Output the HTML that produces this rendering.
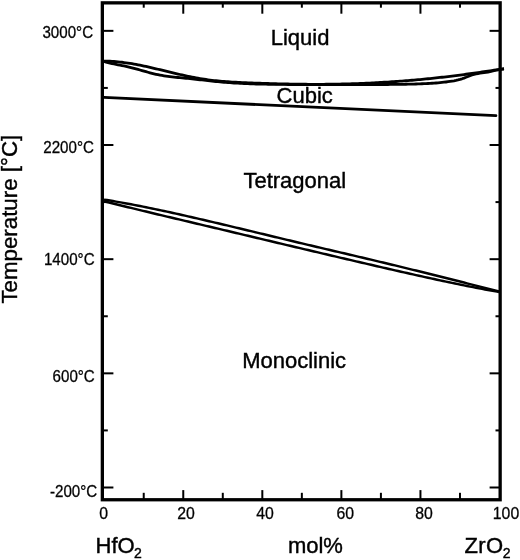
<!DOCTYPE html>
<html><head><meta charset="utf-8"><style>
html,body{margin:0;padding:0;background:#fff;}
body{width:520px;height:560px;overflow:hidden;}
svg{display:block;}
text{font-family:"Liberation Sans",Arial,sans-serif;fill:#000;}
.ax{font-size:15.8px;fill:#111;stroke:#111;stroke-width:0.3px;}
.xl{font-size:15.8px;fill:#111;stroke:#111;stroke-width:0.3px;}
.lb{font-size:22px;stroke:#000;stroke-width:0.4px;}
</style></head><body>
<svg width="520" height="560" viewBox="0 0 520 560">
<rect x="0" y="0" width="520" height="560" fill="#fff"/>
<g fill="none" stroke="#000" stroke-linecap="butt" stroke-linejoin="round" stroke-width="2.8">
<path d="M104.00 61.15 L106.00 61.15 L108.00 61.19 L110.00 61.26 L112.00 61.36 L114.00 61.49 L116.00 61.64 L118.00 61.83 L120.00 62.03 L122.00 62.26 L124.00 62.52 L126.00 62.79 L128.00 63.09 L130.00 63.40 L132.00 63.73 L134.00 64.08 L136.00 64.45 L138.00 64.83 L140.00 65.23 L142.00 65.63 L144.00 66.05 L146.00 66.49 L148.00 66.93 L150.00 67.38 L152.00 67.83 L154.00 68.30 L156.00 68.77 L158.00 69.24 L160.00 69.72 L162.00 70.21 L164.00 70.69 L166.00 71.17 L168.00 71.66 L170.00 72.14 L172.00 72.62 L174.00 73.10 L176.00 73.57 L178.00 74.04 L180.00 74.50 L182.00 74.96 L184.00 75.40 L186.00 75.84 L188.00 76.27 L190.00 76.68 L192.00 77.09 L194.00 77.48 L196.00 77.86 L198.00 78.22 L200.00 78.57 L202.00 78.90 L204.00 79.22 L206.00 79.51 L208.00 79.79 L210.00 80.05 L212.00 80.30 L214.00 80.53 L216.00 80.74 L218.00 80.95 L220.00 81.13 L222.00 81.31 L224.00 81.48 L226.00 81.63 L228.00 81.77 L230.00 81.90 L232.00 82.03 L234.00 82.15 L236.00 82.25 L238.00 82.36 L240.00 82.45 L242.00 82.55 L244.00 82.63 L246.00 82.72 L248.00 82.80 L250.00 82.88 L252.00 82.95 L254.00 83.03 L256.00 83.10 L258.00 83.17 L260.00 83.24 L262.00 83.31 L264.00 83.38 L266.00 83.44 L268.00 83.51 L270.00 83.57 L272.00 83.63 L274.00 83.69 L276.00 83.74 L278.00 83.79 L280.00 83.84 L282.00 83.89 L284.00 83.94 L286.00 83.98 L288.00 84.02 L290.00 84.06 L292.00 84.10 L294.00 84.13 L296.00 84.16 L298.00 84.19 L300.00 84.21 L302.00 84.24 L304.00 84.26 L306.00 84.27 L308.00 84.28 L310.00 84.30 L312.00 84.30 L314.00 84.31 L316.00 84.31 L318.00 84.30 L320.00 84.30 L322.00 84.29 L324.00 84.28 L326.00 84.26 L328.00 84.24 L330.00 84.22 L332.00 84.19 L334.00 84.16 L336.00 84.13 L338.00 84.09 L340.00 84.05 L342.00 84.01 L344.00 83.96 L346.00 83.91 L348.00 83.85 L350.00 83.80 L352.00 83.74 L354.00 83.67 L356.00 83.60 L358.00 83.53 L360.00 83.46 L362.00 83.38 L364.00 83.29 L366.00 83.21 L368.00 83.12 L370.00 83.03 L372.00 82.93 L374.00 82.83 L376.00 82.72 L378.00 82.62 L380.00 82.51 L382.00 82.39 L384.00 82.27 L386.00 82.15 L388.00 82.03 L390.00 81.90 L392.00 81.76 L394.00 81.63 L396.00 81.49 L398.00 81.34 L400.00 81.20 L402.00 81.05 L404.00 80.89 L406.00 80.73 L408.00 80.57 L410.00 80.41 L412.00 80.24 L414.00 80.06 L416.00 79.89 L418.00 79.71 L420.00 79.52 L422.00 79.33 L424.00 79.14 L426.00 78.95 L428.00 78.75 L430.00 78.54 L432.00 78.34 L434.00 78.13 L436.00 77.91 L438.00 77.70 L440.00 77.47 L442.00 77.25 L444.00 77.02 L446.00 76.79 L448.00 76.55 L450.00 76.31 L452.00 76.06 L454.00 75.82 L456.00 75.56 L458.00 75.31 L460.00 75.05 L462.00 74.78 L464.00 74.52 L466.00 74.25 L468.00 73.97 L470.00 73.69 L472.00 73.41 L474.00 73.13 L476.00 72.85 L478.00 72.56 L480.00 72.27 L482.00 71.98 L484.00 71.69 L486.00 71.40 L488.00 71.10 L490.00 70.81 L492.00 70.51 L494.00 70.22 L496.00 69.92 L498.00 69.63 L500.00 69.33 L502.00 69.04 L504.00 68.74"/>
<path d="M104.00 61.50 L106.00 62.06 L108.00 62.57 L110.00 63.06 L112.00 63.51 L114.00 63.94 L116.00 64.35 L118.00 64.76 L120.00 65.15 L122.00 65.55 L124.00 65.96 L126.00 66.38 L128.00 66.82 L130.00 67.29 L132.00 67.79 L134.00 68.31 L136.00 68.86 L138.00 69.42 L140.00 69.99 L142.00 70.56 L144.00 71.14 L146.00 71.71 L148.00 72.27 L150.00 72.81 L152.00 73.34 L154.00 73.83 L156.00 74.29 L158.00 74.72 L160.00 75.11 L162.00 75.46 L164.00 75.79 L166.00 76.09 L168.00 76.37 L170.00 76.63 L172.00 76.87 L174.00 77.09 L176.00 77.30 L178.00 77.50 L180.00 77.70 L182.00 77.89 L184.00 78.08 L186.00 78.27 L188.00 78.47 L190.00 78.67 L192.00 78.88 L194.00 79.09 L196.00 79.31 L198.00 79.53 L200.00 79.76 L202.00 79.98 L204.00 80.21 L206.00 80.43 L208.00 80.66 L210.00 80.88 L212.00 81.09 L214.00 81.30 L216.00 81.51 L218.00 81.71 L220.00 81.89 L222.00 82.08 L224.00 82.25 L226.00 82.41 L228.00 82.56 L230.00 82.71 L232.00 82.85 L234.00 82.98 L236.00 83.10 L238.00 83.22 L240.00 83.33 L242.00 83.43 L244.00 83.52 L246.00 83.61 L248.00 83.70 L250.00 83.78 L252.00 83.85 L254.00 83.91 L256.00 83.98 L258.00 84.03 L260.00 84.09 L262.00 84.13 L264.00 84.18 L266.00 84.22 L268.00 84.26 L270.00 84.29 L272.00 84.32 L274.00 84.35 L276.00 84.38 L278.00 84.40 L280.00 84.42 L282.00 84.44 L284.00 84.46 L286.00 84.47 L288.00 84.49 L290.00 84.50 L292.00 84.51 L294.00 84.52 L296.00 84.53 L298.00 84.54 L300.00 84.55 L302.00 84.55 L304.00 84.56 L306.00 84.56 L308.00 84.56 L310.00 84.57 L312.00 84.57 L314.00 84.57 L316.00 84.57 L318.00 84.57 L320.00 84.56 L322.00 84.56 L324.00 84.56 L326.00 84.56 L328.00 84.56 L330.00 84.55 L332.00 84.55 L334.00 84.55 L336.00 84.55 L338.00 84.54 L340.00 84.54 L342.00 84.54 L344.00 84.54 L346.00 84.54 L348.00 84.54 L350.00 84.54 L352.00 84.54 L354.00 84.54 L356.00 84.54 L358.00 84.54 L360.00 84.55 L362.00 84.55 L364.00 84.55 L366.00 84.55 L368.00 84.55 L370.00 84.55 L372.00 84.55 L374.00 84.55 L376.00 84.54 L378.00 84.54 L380.00 84.53 L382.00 84.52 L384.00 84.51 L386.00 84.50 L388.00 84.49 L390.00 84.47 L392.00 84.45 L394.00 84.43 L396.00 84.41 L398.00 84.38 L400.00 84.35 L402.00 84.31 L404.00 84.28 L406.00 84.24 L408.00 84.19 L410.00 84.15 L412.00 84.09 L414.00 84.04 L416.00 83.98 L418.00 83.91 L420.00 83.84 L422.00 83.77 L424.00 83.69 L426.00 83.60 L428.00 83.50 L430.00 83.39 L432.00 83.27 L434.00 83.14 L436.00 83.00 L438.00 82.83 L440.00 82.65 L442.00 82.45 L444.00 82.23 L446.00 81.99 L448.00 81.73 L450.00 81.44 L452.00 81.13 L454.00 80.78 L456.00 80.38 L458.00 79.93 L460.00 79.40 L462.00 78.80 L464.00 78.11 L466.00 77.32 L468.00 76.47 L470.00 75.66 L472.00 74.96 L474.00 74.39 L476.00 73.91 L478.00 73.53 L480.00 73.20 L482.00 72.92 L484.00 72.65 L486.00 72.37 L488.00 72.06 L490.00 71.68 L492.00 71.23 L494.00 70.74 L496.00 70.24 L498.00 69.77 L500.00 69.39 L502.00 69.11 L504.00 69.00"/>
<path d="M104 97.45 L495.9 115.65" stroke-linecap="round"/>
<path d="M104.00 199.60 L107.00 200.08 L110.00 200.58 L113.00 201.08 L116.00 201.60 L119.00 202.12 L122.00 202.65 L125.00 203.20 L128.00 203.75 L131.00 204.31 L134.00 204.88 L137.00 205.46 L140.00 206.05 L143.00 206.65 L146.00 207.25 L149.00 207.86 L152.00 208.48 L155.00 209.10 L158.00 209.73 L161.00 210.37 L164.00 211.01 L167.00 211.66 L170.00 212.31 L173.00 212.97 L176.00 213.63 L179.00 214.30 L182.00 214.98 L185.00 215.65 L188.00 216.33 L191.00 217.02 L194.00 217.71 L197.00 218.40 L200.00 219.09 L203.00 219.79 L206.00 220.49 L209.00 221.19 L212.00 221.89 L215.00 222.59 L218.00 223.30 L221.00 224.01 L224.00 224.72 L227.00 225.43 L230.00 226.15 L233.00 226.86 L236.00 227.58 L239.00 228.29 L242.00 229.01 L245.00 229.73 L248.00 230.45 L251.00 231.17 L254.00 231.89 L257.00 232.61 L260.00 233.33 L263.00 234.05 L266.00 234.78 L269.00 235.50 L272.00 236.22 L275.00 236.94 L278.00 237.66 L281.00 238.38 L284.00 239.10 L287.00 239.82 L290.00 240.54 L293.00 241.26 L296.00 241.97 L299.00 242.69 L302.00 243.40 L305.00 244.11 L308.00 244.82 L311.00 245.53 L314.00 246.24 L317.00 246.95 L320.00 247.66 L323.00 248.36 L326.00 249.07 L329.00 249.78 L332.00 250.48 L335.00 251.19 L338.00 251.89 L341.00 252.60 L344.00 253.30 L347.00 254.01 L350.00 254.71 L353.00 255.42 L356.00 256.13 L359.00 256.84 L362.00 257.54 L365.00 258.25 L368.00 258.97 L371.00 259.68 L374.00 260.39 L377.00 261.10 L380.00 261.82 L383.00 262.54 L386.00 263.26 L389.00 263.98 L392.00 264.70 L395.00 265.43 L398.00 266.15 L401.00 266.88 L404.00 267.61 L407.00 268.35 L410.00 269.08 L413.00 269.82 L416.00 270.56 L419.00 271.30 L422.00 272.04 L425.00 272.79 L428.00 273.53 L431.00 274.28 L434.00 275.03 L437.00 275.78 L440.00 276.53 L443.00 277.28 L446.00 278.04 L449.00 278.79 L452.00 279.54 L455.00 280.30 L458.00 281.05 L461.00 281.81 L464.00 282.56 L467.00 283.32 L470.00 284.07 L473.00 284.83 L476.00 285.58 L479.00 286.33 L482.00 287.09 L485.00 287.84 L488.00 288.59 L491.00 289.34 L494.00 290.09 L497.00 290.84 L499.00 291.34" stroke-width="2.45"/>
<path d="M104.00 201.20 L107.00 201.96 L110.00 202.72 L113.00 203.47 L116.00 204.22 L119.00 204.97 L122.00 205.71 L125.00 206.45 L128.00 207.19 L131.00 207.92 L134.00 208.66 L137.00 209.39 L140.00 210.11 L143.00 210.84 L146.00 211.56 L149.00 212.29 L152.00 213.01 L155.00 213.72 L158.00 214.44 L161.00 215.16 L164.00 215.87 L167.00 216.59 L170.00 217.30 L173.00 218.01 L176.00 218.72 L179.00 219.43 L182.00 220.14 L185.00 220.85 L188.00 221.56 L191.00 222.27 L194.00 222.98 L197.00 223.69 L200.00 224.40 L203.00 225.11 L206.00 225.83 L209.00 226.54 L212.00 227.25 L215.00 227.96 L218.00 228.67 L221.00 229.39 L224.00 230.10 L227.00 230.81 L230.00 231.53 L233.00 232.24 L236.00 232.95 L239.00 233.67 L242.00 234.38 L245.00 235.10 L248.00 235.81 L251.00 236.52 L254.00 237.24 L257.00 237.95 L260.00 238.67 L263.00 239.38 L266.00 240.09 L269.00 240.81 L272.00 241.52 L275.00 242.23 L278.00 242.95 L281.00 243.66 L284.00 244.37 L287.00 245.08 L290.00 245.79 L293.00 246.51 L296.00 247.22 L299.00 247.93 L302.00 248.64 L305.00 249.35 L308.00 250.06 L311.00 250.77 L314.00 251.47 L317.00 252.18 L320.00 252.89 L323.00 253.59 L326.00 254.30 L329.00 255.01 L332.00 255.71 L335.00 256.41 L338.00 257.12 L341.00 257.82 L344.00 258.52 L347.00 259.22 L350.00 259.92 L353.00 260.62 L356.00 261.32 L359.00 262.02 L362.00 262.71 L365.00 263.41 L368.00 264.11 L371.00 264.80 L374.00 265.49 L377.00 266.19 L380.00 266.88 L383.00 267.57 L386.00 268.26 L389.00 268.94 L392.00 269.63 L395.00 270.32 L398.00 271.00 L401.00 271.69 L404.00 272.37 L407.00 273.05 L410.00 273.73 L413.00 274.41 L416.00 275.08 L419.00 275.75 L422.00 276.42 L425.00 277.09 L428.00 277.75 L431.00 278.41 L434.00 279.07 L437.00 279.72 L440.00 280.37 L443.00 281.02 L446.00 281.66 L449.00 282.29 L452.00 282.92 L455.00 283.55 L458.00 284.17 L461.00 284.78 L464.00 285.39 L467.00 285.99 L470.00 286.58 L473.00 287.17 L476.00 287.75 L479.00 288.33 L482.00 288.89 L485.00 289.45 L488.00 290.00 L491.00 290.55 L494.00 291.08 L497.00 291.61 L499.00 291.95" stroke-width="2.45"/>
</g>
<g stroke="#000" stroke-width="2"><line x1="101.00" y1="487.50" x2="113.40" y2="487.50"/><line x1="489.60" y1="487.50" x2="501.00" y2="487.50"/><line x1="101.00" y1="430.42" x2="107.80" y2="430.42"/><line x1="495.50" y1="430.42" x2="501.00" y2="430.42"/><line x1="101.00" y1="373.34" x2="113.40" y2="373.34"/><line x1="489.60" y1="373.34" x2="501.00" y2="373.34"/><line x1="101.00" y1="316.26" x2="107.80" y2="316.26"/><line x1="495.50" y1="316.26" x2="501.00" y2="316.26"/><line x1="101.00" y1="259.18" x2="113.40" y2="259.18"/><line x1="489.60" y1="259.18" x2="501.00" y2="259.18"/><line x1="101.00" y1="202.09" x2="107.80" y2="202.09"/><line x1="495.50" y1="202.09" x2="501.00" y2="202.09"/><line x1="101.00" y1="145.01" x2="113.40" y2="145.01"/><line x1="489.60" y1="145.01" x2="501.00" y2="145.01"/><line x1="101.00" y1="87.93" x2="107.80" y2="87.93"/><line x1="495.50" y1="87.93" x2="501.00" y2="87.93"/><line x1="101.00" y1="30.85" x2="113.40" y2="30.85"/><line x1="489.60" y1="30.85" x2="501.00" y2="30.85"/><line x1="143.73" y1="2.00" x2="143.73" y2="7.70"/><line x1="143.73" y1="492.80" x2="143.73" y2="500.00"/><line x1="183.26" y1="2.00" x2="183.26" y2="13.70"/><line x1="183.26" y1="490.10" x2="183.26" y2="500.00"/><line x1="222.79" y1="2.00" x2="222.79" y2="7.70"/><line x1="222.79" y1="492.80" x2="222.79" y2="500.00"/><line x1="262.32" y1="2.00" x2="262.32" y2="13.70"/><line x1="262.32" y1="490.10" x2="262.32" y2="500.00"/><line x1="301.85" y1="2.00" x2="301.85" y2="7.70"/><line x1="301.85" y1="492.80" x2="301.85" y2="500.00"/><line x1="341.38" y1="2.00" x2="341.38" y2="13.70"/><line x1="341.38" y1="490.10" x2="341.38" y2="500.00"/><line x1="380.91" y1="2.00" x2="380.91" y2="7.70"/><line x1="380.91" y1="492.80" x2="380.91" y2="500.00"/><line x1="420.44" y1="2.00" x2="420.44" y2="13.70"/><line x1="420.44" y1="490.10" x2="420.44" y2="500.00"/><line x1="459.97" y1="2.00" x2="459.97" y2="7.70"/><line x1="459.97" y1="492.80" x2="459.97" y2="500.00"/></g>
<rect x="102.35" y="2.85" width="397.8" height="496.9" fill="none" stroke="#000" stroke-width="3.3"/>
<g class="ax" text-anchor="end">
<text transform="translate(93.1,37.9) scale(0.958,1)">3000°C</text>
<text transform="translate(93.9,152.7) scale(0.958,1)">2200°C</text>
<text transform="translate(94.6,264.7) scale(0.958,1)">1400°C</text>
<text transform="translate(94.8,382.3) scale(0.958,1)">600°C</text>
<text transform="translate(97.2,497.1) scale(0.958,1)">-200°C</text>
</g>
<g class="xl">
<text x="103.75" y="518.8" text-anchor="middle">0</text>
<text x="185.95" y="518.8" text-anchor="middle">20</text>
<text x="265" y="518.8" text-anchor="middle">40</text>
<text x="345.2" y="518.8" text-anchor="middle">60</text>
<text x="424" y="518.8" text-anchor="middle">80</text>
<text x="506" y="518.8" text-anchor="middle">100</text>
</g>
<g class="lb">
<text x="300.1" y="45.4" text-anchor="middle">Liquid</text>
<text x="304.7" y="102.6" text-anchor="middle">Cubic</text>
<text x="294.8" y="188.2" text-anchor="middle">Tetragonal</text>
<text x="294.1" y="368.2" text-anchor="middle">Monoclinic</text>
<text x="95.6" y="552.9">HfO<tspan font-size="14" dx="-0.8" dy="5.3">2</tspan></text>
<text x="315.4" y="552.9" text-anchor="middle">mol%</text>
<text x="464.6" y="553.1" letter-spacing="0.3">ZrO<tspan font-size="14" dx="-0.6" dy="5.3">2</tspan></text>
<text transform="translate(17.2,303.6) rotate(-90)" font-size="22.3">Temperature [°C]</text>
</g>
</svg>
</body></html>
